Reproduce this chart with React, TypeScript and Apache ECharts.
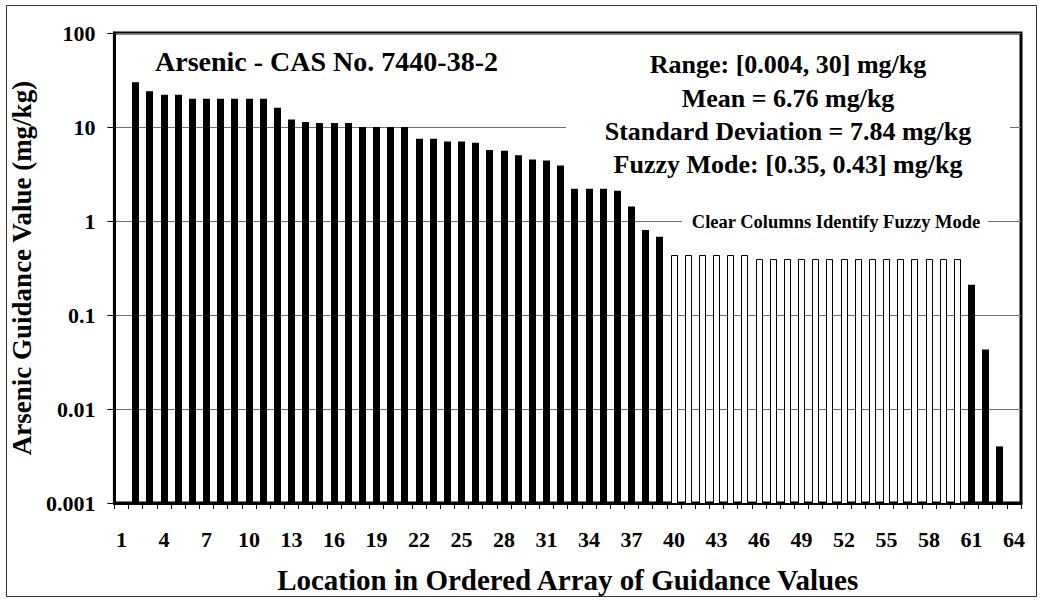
import React, { useEffect, useRef } from "react";
import * as echarts from "echarts";

const categories = [
  "1", "2", "3", "4", "5", "6", "7", "8", "9", "10", "11", "12", "13", "14", "15", "16",
  "17", "18", "19", "20", "21", "22", "23", "24", "25", "26", "27", "28", "29", "30", "31", "32",
  "33", "34", "35", "36", "37", "38", "39", "40", "41", "42", "43", "44", "45", "46", "47", "48",
  "49", "50", "51", "52", "53", "54", "55", "56", "57", "58", "59", "60", "61", "62", "63", "64",
];

// guidance values (mg/kg) per ordered location; null = no column
const values: (number | null)[] = [
  null, 30, 24, 22, 22, 20, 20, 20, 20, 20, 20, 16, 12, 11.3, 11, 11,
  11, 10, 10, 10, 10, 7.5, 7.5, 7, 7, 6.8, 5.7, 5.6, 5, 4.5, 4.4, 3.9,
  2.2, 2.2, 2.2, 2.1, 1.43, 0.8, 0.68, 0.43, 0.43, 0.43, 0.43, 0.43, 0.43, 0.39, 0.39, 0.39,
  0.39, 0.39, 0.39, 0.39, 0.39, 0.39, 0.39, 0.39, 0.39, 0.39, 0.39, 0.39, 0.21, 0.043, 0.004, null,
];

// locations whose columns are drawn clear (fuzzy mode)
const fuzzyFirst = 40;
const fuzzyLast = 60;

const yMin = 0.001;
const yMax = 100;
const yTickLabels = ["0.001", "0.01", "0.1", "1", "10", "100"];

const chartTitle = "Arsenic - CAS No. 7440-38-2";
const statsLines = [
  "Range: [0.004, 30] mg/kg",
  "Mean = 6.76 mg/kg",
  "Standard Deviation = 7.84 mg/kg",
  "Fuzzy Mode: [0.35, 0.43] mg/kg",
];
const fuzzyNote = "Clear Columns Identify Fuzzy Mode";
const xTitle = "Location in Ordered Array of Guidance Values";
const yTitle = "Arsenic Guidance Value (mg/kg)";

const FONT = '"Liberation Serif", "Times New Roman", serif';

export default function App() {
  const ref = useRef<HTMLDivElement>(null);

  useEffect(() => {
    if (!ref.current) return;
    const chart = echarts.init(ref.current, undefined, { renderer: "svg" });

    const data = values.map((v, i) => [i, v === null ? "-" : v]);

    const statsY = [64, 98, 131, 164];

    const option: any = {
      animation: false,
      backgroundColor: "#ffffff",
      textStyle: { fontFamily: FONT },
      grid: {
        left: 110,
        top: 33,
        right: 21,
        bottom: 98,
        show: true,
        borderColor: "#000000",
        borderWidth: 3,
        backgroundColor: "transparent",
      },
      xAxis: {
        type: "category",
        data: categories,
        boundaryGap: true,
        name: xTitle,
        nameLocation: "middle",
        nameGap: 62,
        nameTextStyle: { fontFamily: FONT, fontWeight: "bold", fontSize: 29, color: "#000" },
        axisLine: { show: true, lineStyle: { color: "#000", width: 3 } },
        axisTick: { show: true, interval: 0, length: 6, lineStyle: { color: "#000", width: 1 } },
        axisLabel: {
          interval: 2,
          margin: 25,
          fontFamily: FONT,
          fontWeight: "bold",
          fontSize: 22,
          color: "#000",
        },
        splitLine: { show: false },
      },
      yAxis: {
        type: "log",
        logBase: 10,
        min: yMin,
        max: yMax,
        splitNumber: 5,
        name: yTitle,
        nameLocation: "middle",
        nameGap: 64,
        nameRotate: 90,
        nameTextStyle: { fontFamily: FONT, fontWeight: "bold", fontSize: 27, color: "#000" },
        axisLine: { show: true, lineStyle: { color: "#000", width: 3 } },
        axisTick: { show: true, length: 7, lineStyle: { color: "#000", width: 1 } },
        axisLabel: {
          margin: 19,
          fontFamily: FONT,
          fontWeight: "bold",
          fontSize: 22,
          color: "#000",
          formatter: (v: number) => yTickLabels[Math.round(Math.log10(v)) + 3] ?? "",
        },
        splitLine: { show: true, lineStyle: { color: "#707070", width: 1 } },
      },
      series: [
        {
          type: "custom",
          data,
          encode: { x: 0, y: 1 },
          z: 2,
          clip: true,
          renderItem: (params: any, api: any) => {
            const idx = api.value(0);
            const v = api.value(1);
            if (v == null || isNaN(v) || v <= 0) return null;
            const top = api.coord([idx, v]);
            const base = api.coord([idx, yMin]);
            const band = params.coordSys.width / categories.length;
            const w = band * 0.47;
            const loc = Number(categories[idx]);
            const clear = loc >= fuzzyFirst && loc <= fuzzyLast;
            const x = Math.round(top[0] - w / 2);
            if (clear) {
              return {
                type: "rect",
                shape: { x: x + 0.5, y: Math.round(top[1]) + 0.5, width: Math.round(w) - 1, height: base[1] - Math.round(top[1]) },
                style: { fill: "#ffffff", stroke: "#000000", lineWidth: 1 },
              };
            }
            return {
              type: "rect",
              shape: { x, y: top[1], width: Math.round(w), height: base[1] - top[1] },
              style: { fill: "#000000" },
            };
          },
        },
      ],
      graphic: [
        {
          type: "rect",
          z: 50,
          shape: { x: 6.5, y: 5.5, width: 1030, height: 591 },
          style: { fill: "none", stroke: "#333", lineWidth: 1 },
        },
        {
          type: "text",
          z: 60,
          style: {
            text: chartTitle,
            x: 155,
            y: 61,
            align: "left",
            verticalAlign: "middle",
            fontFamily: FONT,
            fontWeight: "bold",
            fontSize: 28,
            fill: "#000",
          },
        },
        {
          type: "rect",
          z: 55,
          shape: { x: 566, y: 42, width: 444, height: 140 },
          style: { fill: "#ffffff", stroke: "none" },
        },
        ...statsLines.map((t, i) => ({
          type: "text",
          z: 60,
          style: {
            text: t,
            x: 788,
            y: statsY[i],
            align: "center",
            verticalAlign: "middle",
            fontFamily: FONT,
            fontWeight: "bold",
            fontSize: 26,
            fill: "#000",
          },
        })),
        {
          type: "rect",
          z: 55,
          shape: { x: 682, y: 211, width: 306, height: 22 },
          style: { fill: "#ffffff", stroke: "none" },
        },
        {
          type: "text",
          z: 60,
          style: {
            text: fuzzyNote,
            x: 836,
            y: 222,
            align: "center",
            verticalAlign: "middle",
            fontFamily: FONT,
            fontWeight: "bold",
            fontSize: 18.5,
            fill: "#000",
          },
        },
      ],
    };

    chart.setOption(option);
    return () => chart.dispose();
  }, []);

  return (
    <div
      ref={ref}
      style={{ position: "fixed", left: 0, top: 0, width: 1042, height: 601, background: "#fff" }}
    />
  );
}
